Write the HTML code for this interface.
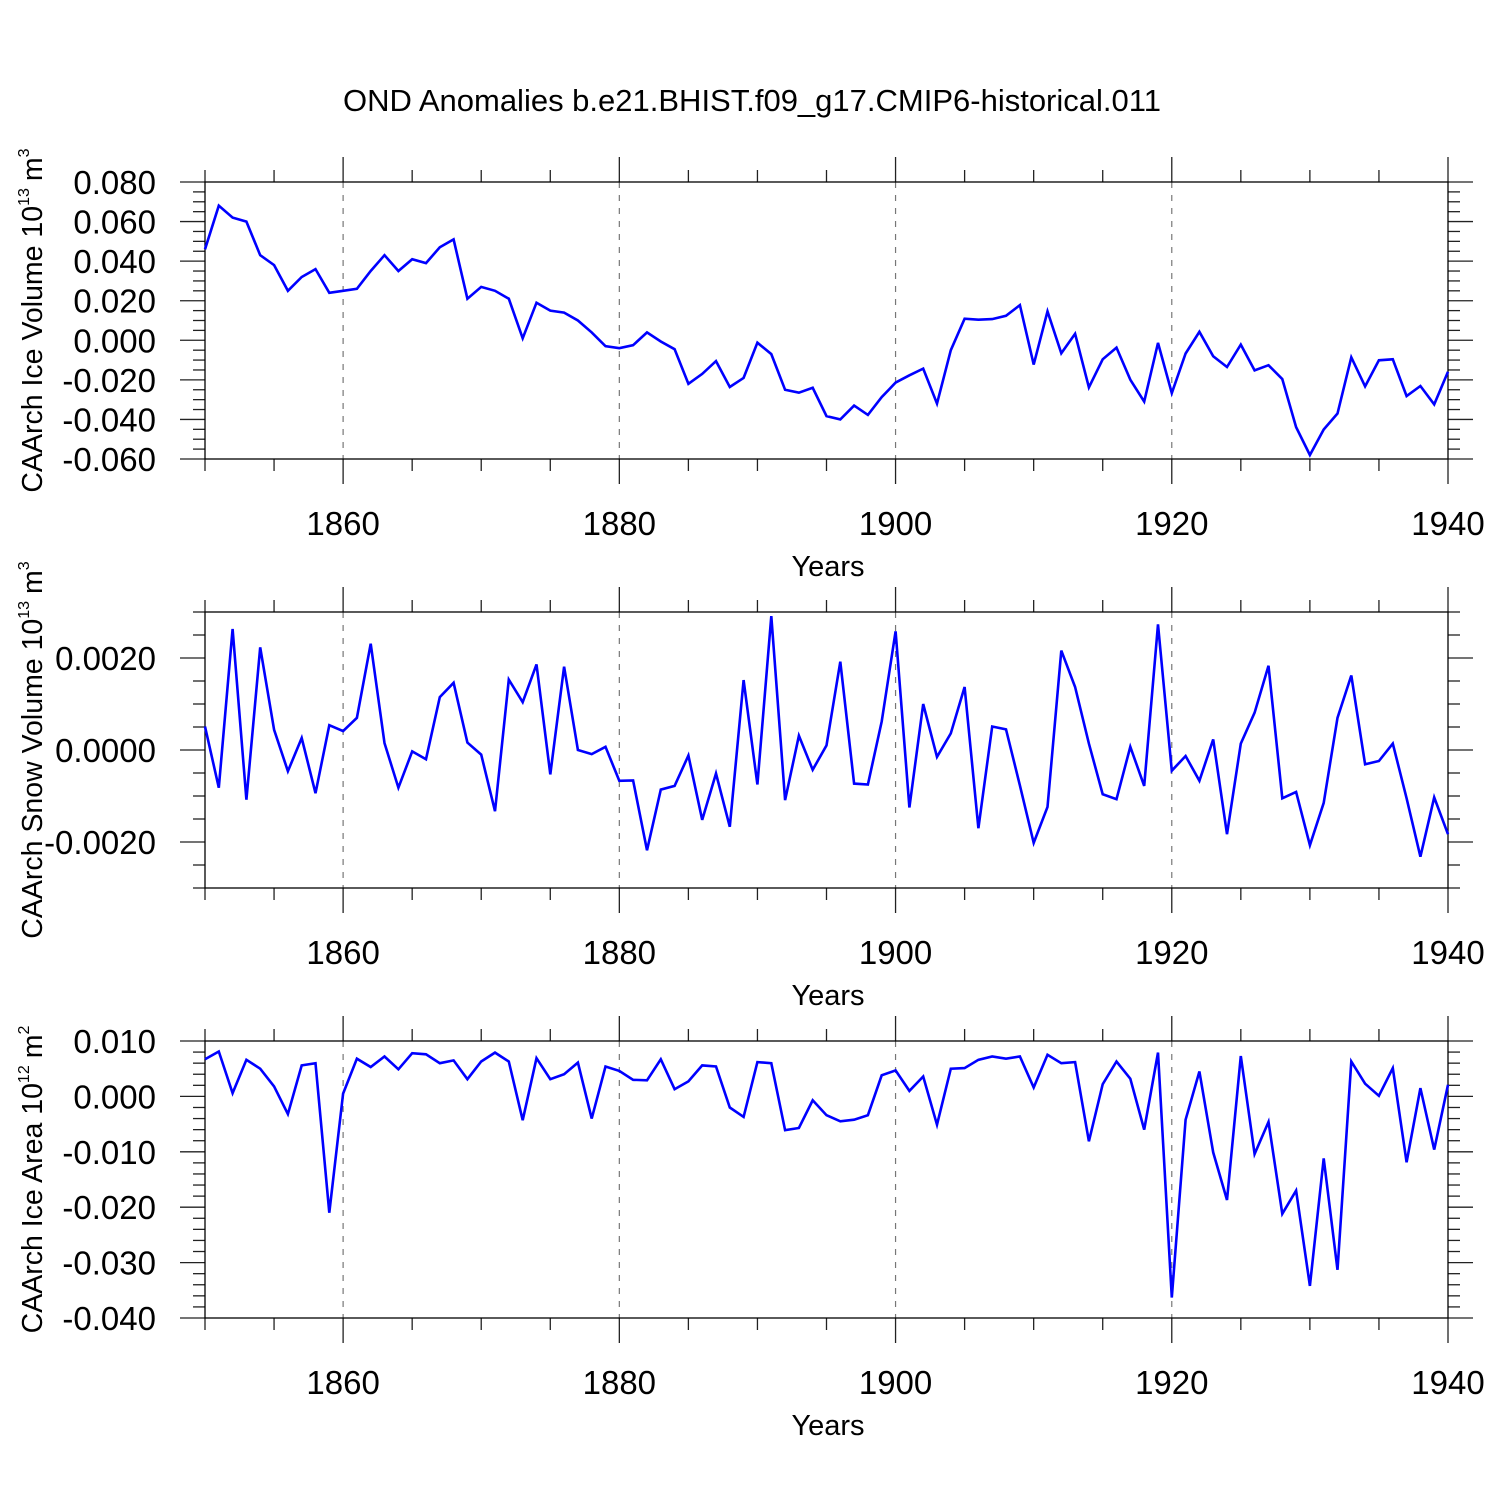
<!DOCTYPE html>
<html><head><meta charset="utf-8"><style>
html,body{margin:0;padding:0;background:#fff;}
svg text{font-family:"Liberation Sans",sans-serif;fill:#000;}
</style></head><body>
<svg id="chart" width="1500" height="1500" viewBox="0 0 1500 1500" xmlns="http://www.w3.org/2000/svg">
<text x="752" y="111" font-size="31" text-anchor="middle">OND Anomalies b.e21.BHIST.f09_g17.CMIP6-historical.011</text>
</svg>
<script>
const years = [];
for (let y = 1850; y <= 1940; y++) years.push(y);
const xTickLabels = ["1860","1880","1900","1920","1940"];
const iceVolume = [0.046,0.068,0.062,0.060,0.043,0.038,0.025,0.032,0.036,0.024,
0.025,0.026,0.035,0.043,0.035,0.041,0.039,0.047,0.051,0.021,
0.027,0.025,0.021,0.001,0.019,0.015,0.014,0.010,0.004,-0.003,
-0.004,-0.0025,0.004,-0.0006,-0.0045,-0.022,-0.017,-0.0105,-0.0236,-0.019,
-0.0012,-0.007,-0.025,-0.0265,-0.024,-0.0383,-0.040,-0.033,-0.0377,-0.0287,
-0.0214,-0.0177,-0.0143,-0.032,-0.005,0.0109,0.0104,0.0107,0.0124,0.0178,
-0.0123,0.0146,-0.0066,0.0033,-0.0238,-0.0096,-0.0037,-0.0199,-0.031,-0.0013,
-0.0267,-0.0067,0.0043,-0.0081,-0.0135,-0.0022,-0.0152,-0.0126,-0.0196,-0.0439,
-0.058,-0.0451,-0.037,-0.0086,-0.0233,-0.0101,-0.0096,-0.0282,-0.0231,-0.0324,-0.0159];
const snowVolume = [0.00051,-0.00082,0.00263,-0.00108,0.00223,0.00044,-0.00046,0.00026,-0.00094,0.00054,
0.00041,0.00070,0.00231,0.00015,-0.00082,-0.00003,-0.00020,0.00115,0.00146,0.00016,
-0.00010,-0.00133,0.00153,0.00104,0.00186,-0.00053,0.00181,0.0,-0.00009,0.00007,
-0.00067,-0.00066,-0.00218,-0.00086,-0.00078,-0.00012,-0.00152,-0.00051,-0.00167,0.00152,
-0.00075,0.00291,-0.00109,0.00031,-0.00043,0.0001,0.00192,-0.00073,-0.00075,0.00062,
0.00258,-0.00125,0.001,-0.00015,0.00036,0.00137,-0.0017,0.00051,0.00045,-0.00077,
-0.00202,-0.00124,0.00216,0.00137,0.00014,-0.00096,-0.00107,0.00007,-0.00078,0.00273,
-0.00045,-0.00013,-0.00067,0.00023,-0.00183,0.00014,0.00081,0.00183,-0.00105,-0.00091,
-0.00207,-0.00115,0.0007,0.00162,-0.00031,-0.00024,0.00014,-0.00105,-0.00232,-0.00103,-0.00183];
const iceArea = [0.0067,0.0081,0.0006,0.0066,0.0050,0.0018,-0.0032,0.0056,0.0060,-0.0210,
0.0005,0.0068,0.0053,0.0072,0.0049,0.0078,0.0076,0.0060,0.0065,0.0031,
0.0063,0.0079,0.0063,-0.0043,0.0069,0.0031,0.0040,0.0061,-0.0040,0.0054,
0.0046,0.0030,0.0029,0.0067,0.0013,0.0027,0.0056,0.0054,-0.0020,-0.0037,
0.0062,0.0060,-0.0061,-0.0057,-0.0007,-0.0034,-0.0045,-0.0042,-0.0034,0.0038,
0.0047,0.0010,0.0036,-0.0051,0.0050,0.0051,0.0066,0.0072,0.0068,0.0072,
0.0016,0.0075,0.0060,0.0062,-0.0081,0.0022,0.0063,0.0032,-0.0060,0.0079,
-0.0363,-0.0042,0.0045,-0.0101,-0.0187,0.0073,-0.0104,-0.0046,-0.0212,-0.0170,
-0.0342,-0.0112,-0.0313,0.0063,0.0023,0.0001,0.0051,-0.0119,0.0015,-0.0096,0.0021];
const p1Ticks = ["0.080","0.060","0.040","0.020","0.000","-0.020","-0.040","-0.060"];
const p2Ticks = ["0.0020","0.0000","-0.0020"];
const p3Ticks = ["0.010","0.000","-0.010","-0.020","-0.030","-0.040"];

const NS = "http://www.w3.org/2000/svg";
const svg = document.getElementById("chart");
const X0 = 205, X1 = 1448, YR0 = 1850, YR1 = 1940;
function xScale(yr){ return X0 + (yr - YR0) / (YR1 - YR0) * (X1 - X0); }
function mk(tag, attrs, parent){
  const e = document.createElementNS(NS, tag);
  for (const k in attrs) e.setAttribute(k, attrs[k]);
  (parent || svg).appendChild(e);
  return e;
}
function line(g,x1,y1,x2,y2,stroke,w,dash){
  const l = mk("line",{x1:x1,y1:y1,x2:x2,y2:y2,stroke:stroke,"stroke-width":w},g);
  if (dash) l.setAttribute("stroke-dasharray", dash);
  return l;
}
function panel(cfg){
  const g = mk("g",{});
  
  
  const yS = v => cfg.top + (cfg.vmax - v) / (cfg.vmax - cfg.vmin) * (cfg.bot - cfg.top);
  [1860,1880,1900,1920].forEach(yr => {
    const d = line(g, xScale(yr), cfg.top, xScale(yr), cfg.bot, "#777", 1.2, "6,7");
    
    
  });
  for (let yr = 1850; yr <= 1940; yr += 5) {
    const major = (yr % 20 === 0);
    const L = major ? 25 : 12;
    line(g, xScale(yr), cfg.bot, xScale(yr), cfg.bot + L, "#222", 1.3);
    line(g, xScale(yr), cfg.top, xScale(yr), cfg.top - L, "#222", 1.3);
  }
  const n = Math.round((cfg.vmax - cfg.vmin) / cfg.minor);
  for (let i = 0; i <= n; i++) {
    const v = cfg.vmin + i * cfg.minor;
    const y = yS(v);
    const isMajor = cfg.majors.some(m => Math.abs(m - v) < cfg.minor * 0.1);
    const L = isMajor ? 25 : 12;
    line(g, X0 - L, y, X0, y, "#222", 1.3);
    line(g, X1, y, X1 + L, y, "#222", 1.3);
  }
  const box = mk("rect",{x:X0,y:cfg.top,width:X1-X0,height:cfg.bot-cfg.top,fill:"none",stroke:"#000","stroke-width":1.3},g);
  
  
  cfg.labels.forEach((lab, i) => {
    const t = mk("text",{x:156,y:yS(cfg.majors[i])+12,"font-size":33,"text-anchor":"end"},g);
    t.textContent = lab;
    
    
  });
  xTickLabels.forEach(lab => {
    const t = mk("text",{x:xScale(+lab),y:cfg.bot+76,"font-size":33,"text-anchor":"middle"},g);
    t.textContent = lab;
    
    
  });
  const xt = mk("text",{x:828,y:cfg.bot+117,"font-size":29,"text-anchor":"middle"},g);
  xt.textContent = "Years";
  
  
  const yc = (cfg.top + cfg.bot) / 2 + cfg.titleShift;
  const yt = mk("text",{x:0,y:0,"font-size":28.5,"text-anchor":"middle",transform:"translate(42,"+yc+") rotate(-90)"},g);
  
  
  yt.appendChild(document.createTextNode(cfg.ytitle + " 10"));
  const s1 = mk("tspan",{"font-size":16,dy:-13},yt); s1.textContent = cfg.exp;
  const s2 = mk("tspan",{"font-size":28.5,dy:13,dx:7},yt); s2.textContent = "m";
  const s3 = mk("tspan",{"font-size":16,dy:-13},yt); s3.textContent = cfg.pow;
  const pts = cfg.data.map((v,i) => xScale(years[i]).toFixed(1) + "," + yS(v).toFixed(1)).join(" ");
  const pl = mk("polyline",{points:pts,fill:"none",stroke:"#0000ff","stroke-width":2.6,"stroke-linejoin":"miter"},g);
  
  
}
panel({name:"ice-volume-panel",top:182,bot:459,vmax:0.08,vmin:-0.06,minor:0.005,
  majors:[0.08,0.06,0.04,0.02,0,-0.02,-0.04,-0.06],labels:p1Ticks,data:iceVolume,
  ytitle:"CAArch Ice Volume",exp:"13",pow:"3",titleShift:0});
panel({name:"snow-volume-panel",top:612,bot:888,vmax:0.003,vmin:-0.003,minor:0.0005,
  majors:[0.002,0,-0.002],labels:p2Ticks,data:snowVolume,
  ytitle:"CAArch Snow Volume",exp:"13",pow:"3",titleShift:0});
panel({name:"ice-area-panel",top:1041,bot:1318,vmax:0.01,vmin:-0.04,minor:0.002,
  majors:[0.01,0,-0.01,-0.02,-0.03,-0.04],labels:p3Ticks,data:iceArea,
  ytitle:"CAArch Ice Area",exp:"12",pow:"2",titleShift:0});
</script>
</body></html>
